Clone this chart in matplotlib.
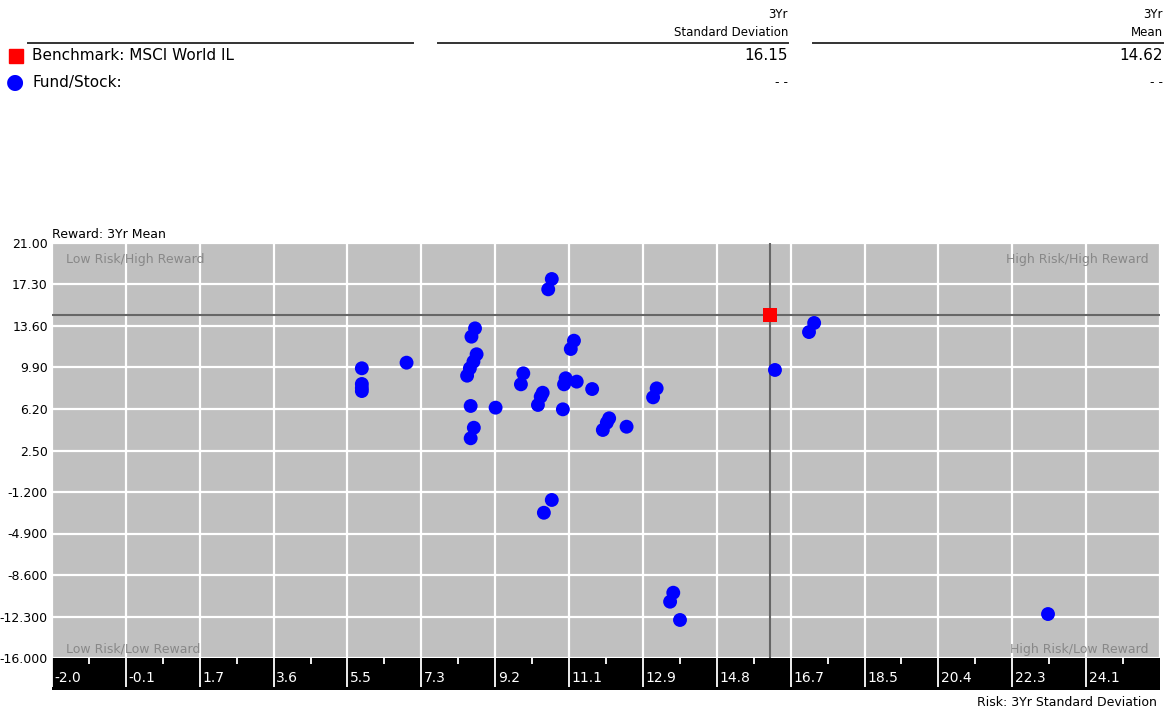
import numpy as np
import matplotlib.pyplot as plt
from matplotlib.patches import Rectangle
from matplotlib.lines import Line2D

# Benchmark
bench_name = "Benchmark: MSCI World IL"
bench_std = 16.15
bench_mean = 14.62

# Funds/stocks: 3Yr standard deviation (risk) and 3Yr mean (reward)
fund_std = [10.63, 10.54, 8.69, 8.60, 11.19, 11.11, 8.73, 8.65, 8.56, 8.49,
            5.83, 5.83, 5.83, 5.83, 6.96, 9.91, 9.85, 10.98, 10.94, 11.26,
            11.65, 10.40, 10.35, 10.28, 10.91, 9.21, 8.58, 8.66, 8.58, 12.08,
            12.02, 11.92, 12.52, 13.28, 13.19, 10.63, 10.43, 13.70, 13.62, 13.87,
            16.27, 17.26, 17.13, 23.17]
fund_mean = [17.79, 16.87, 13.39, 12.65, 12.29, 11.55, 11.08, 10.42, 9.83, 9.17,
             9.83, 8.43, 8.07, 7.80, 10.33, 9.38, 8.40, 8.94, 8.40, 8.64,
             7.98, 7.65, 7.30, 6.56, 6.17, 6.32, 6.47, 4.53, 3.59, 5.37,
             4.98, 4.33, 4.62, 8.04, 7.24, -1.91, -3.05, -10.18, -10.98, -12.61,
             9.68, 13.87, 13.06, -12.08]

x_ticks = np.linspace(-2, 26, 16)
x_labels = ["-2.0", "-0.1", "1.7", "3.6", "5.5", "7.3", "9.2", "11.1", "12.9",
            "14.8", "16.7", "18.5", "20.4", "22.3", "24.1"]
y_ticks = np.linspace(-16, 21, 11)
y_labels = ["-16.000", "-12.300", "-8.600", "-4.900", "-1.200", "2.50", "6.20",
            "9.90", "13.60", "17.30", "21.00"]

W, H = 1168, 711
fig = plt.figure(figsize=(W / 100, H / 100), dpi=100)
fig.patch.set_facecolor("white")

def box(x0, y0, x1, y1):
    # pixel box (top-left origin) -> figure fraction
    return [x0 / W, 1 - y1 / H, (x1 - x0) / W, (y1 - y0) / H]

# main plot
ax = fig.add_axes(box(52, 243, 1160, 658))
ax.set_facecolor("#c0c0c0")
ax.set_xlim(-2, 26)
ax.set_ylim(-16, 21)
for s in ax.spines.values():
    s.set_visible(False)
ax.set_xticks(x_ticks)
ax.set_yticks(y_ticks)
ax.set_yticklabels(y_labels, fontsize=9)
ax.tick_params(axis="x", length=0, labelbottom=False)
ax.tick_params(axis="y", length=0, pad=3)
ax.grid(True, color="white", linewidth=1.6)
ax.set_axisbelow(True)

# crosshair at benchmark
ax.axvline(bench_std, color="#666666", linewidth=1.5, zorder=2)
ax.axhline(bench_mean, color="#666666", linewidth=1.5, zorder=2)

ax.scatter(fund_std, fund_mean, s=100, color="#0000ff", edgecolors="none", zorder=3)
ax.scatter([bench_std], [bench_mean], s=100, marker="s", color="#ff0000", edgecolors="none", zorder=4)

qc = "#888888"
ax.text(0.013, 0.975, "Low Risk/High Reward", transform=ax.transAxes, color=qc, fontsize=9, va="top", ha="left")
ax.text(0.99, 0.975, "High Risk/High Reward", transform=ax.transAxes, color=qc, fontsize=9, va="top", ha="right")
ax.text(0.013, 0.005, "Low Risk/Low Reward", transform=ax.transAxes, color=qc, fontsize=9, va="bottom", ha="left")
ax.text(0.99, 0.005, "High Risk/Low Reward", transform=ax.transAxes, color=qc, fontsize=9, va="bottom", ha="right")
ax.text(0, 1.004, "Reward: 3Yr Mean", transform=ax.transAxes, fontsize=9, va="bottom", ha="left")

# black x-axis bar
bar = fig.add_axes(box(52, 658, 1160, 690))
bar.set_facecolor("black")
bar.set_xlim(-2, 26)
bar.set_ylim(0, 1)
bar.set_yticks([])
for s in bar.spines.values():
    s.set_visible(False)
bar.xaxis.tick_top()
bar.set_xticks(x_ticks[:-1])
bar.set_xticks((x_ticks[:-1] + x_ticks[1:]) / 2, minor=True)
bar.tick_params(axis="x", which="major", direction="in", length=21, width=1.3, color="white", labeltop=False)
bar.tick_params(axis="x", which="minor", direction="in", length=4, width=1.3, color="white")
for xv, lab in zip(x_ticks[:-1], x_labels):
    bar.text(xv + 0.07, 0.38, lab, color="white", fontsize=10, ha="left", va="center")
fig.text(1157 / W, 1 - 702 / H, "Risk: 3Yr Standard Deviation", fontsize=9, ha="right", va="center")

# header legend/table
fig.add_artist(Line2D([28 / W, 413 / W], [1 - 43 / H] * 2, color="#333333", linewidth=1.4))
fig.add_artist(Line2D([438 / W, 788 / W], [1 - 43 / H] * 2, color="#333333", linewidth=1.4))
fig.add_artist(Line2D([813 / W, 1163 / W], [1 - 43 / H] * 2, color="#333333", linewidth=1.4))
fig.add_artist(Rectangle((9 / W, 1 - 63 / H), 14 / W, 14 / H, color="#ff0000", transform=fig.transFigure))
fig.text(15 / W, 1 - 82 / H, "\u25cf", color="#0000ff", fontsize=15, ha="center", va="center")
fig.text(32 / W, 1 - 56 / H, bench_name, fontsize=11, ha="left", va="center")
fig.text(32 / W, 1 - 82 / H, "Fund/Stock:", fontsize=11, ha="left", va="center")

fig.text(788 / W, 1 - 15 / H, "3Yr", fontsize=8.5, ha="right", va="center")
fig.text(788 / W, 1 - 32 / H, "Standard Deviation", fontsize=8.5, ha="right", va="center")
fig.text(788 / W, 1 - 56 / H, "%.2f" % bench_std, fontsize=11, ha="right", va="center")
fig.text(788 / W, 1 - 82 / H, "- -", fontsize=9, ha="right", va="center")
fig.text(1163 / W, 1 - 15 / H, "3Yr", fontsize=8.5, ha="right", va="center")
fig.text(1163 / W, 1 - 32 / H, "Mean", fontsize=8.5, ha="right", va="center")
fig.text(1163 / W, 1 - 56 / H, "%.2f" % bench_mean, fontsize=11, ha="right", va="center")
fig.text(1163 / W, 1 - 82 / H, "- -", fontsize=9, ha="right", va="center")

fig.savefig("out.png", dpi=100)
